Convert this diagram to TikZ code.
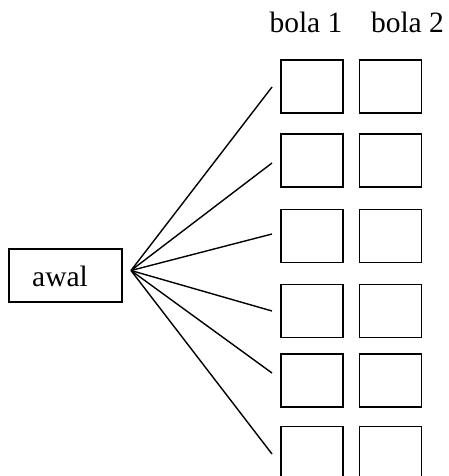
\documentclass[tikz,border=0pt]{standalone}
\usepackage{fontspec}
\setmainfont{Liberation Serif}
\begin{document}
\begin{tikzpicture}[x=1pt,y=1pt,
  cell/.style={draw,line width=1.4pt,minimum width=62pt,minimum height=53pt,inner sep=0pt},
  lbl/.style={anchor=base,inner sep=0pt,font=\fontsize{29.5}{34}\selectfont},
  conn/.style={line width=1.4pt}]
\useasboundingbox (0,0) rectangle (448,-476);
\clip (0,0) rectangle (448,-476);
\node[draw,line width=1.4pt,minimum width=113pt,minimum height=53pt,inner sep=0pt] (awal) at (65.5,-275.5) {};
\node[lbl] (awaltxt) at (60,-286.5) {awal};
\node[lbl] (h1) at (306,-33) {bola 1};
\node[lbl] (h2) at (407.5,-33) {bola 2};
\foreach \i/\y in {1/86.5,2/160.5,3/236,4/311,5/380.5,6/453}{
  \node[cell] (a\i) at (312,-\y) {};
  \node[cell] (b\i) at (390.5,-\y) {};
}
\coordinate (o) at (131,-270.5);
\coordinate (e1) at (272,-87);
\coordinate (e2) at (272,-163);
\coordinate (e3) at (272,-234);
\coordinate (e4) at (272,-311);
\coordinate (e5) at (272,-373);
\coordinate (e6) at (272,-454);
\foreach \i in {1,...,6}{\draw[conn] (o) -- (e\i);}
\end{tikzpicture}
\end{document}
